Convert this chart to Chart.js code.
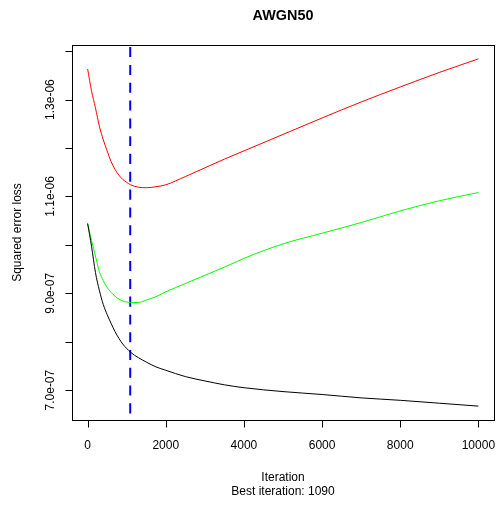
<!DOCTYPE html>
<html>
<head>
<meta charset="utf-8">
<script src="https://cdn.jsdelivr.net/npm/chart.js@4/dist/chart.umd.min.js"></script>
<style>
  html, body { margin: 0; padding: 0; background: #fff; }
  #wrap { width: 497px; height: 507px; position: relative; }
</style>
</head>
<body>
<div id="wrap"><canvas id="c"></canvas></div>
<script>
// Boosting iterations at which the loss curves were sampled
const iterations = [0, 100, 200, 300, 400, 500, 600, 700, 800, 900, 1000, 1100, 1300, 1500,
  1750, 2000, 2500, 3000, 3500, 4000, 5000, 6000, 7000, 8000, 9000, 10000];

// Validation loss (red)
const validLoss = [13.63e-7, 13.18e-7, 12.83e-7, 12.45e-7, 12.17e-7, 11.94e-7, 11.72e-7, 11.56e-7,
  11.44e-7, 11.35e-7, 11.29e-7, 11.24e-7, 11.19e-7, 11.18e-7, 11.20e-7, 11.24e-7, 11.41e-7,
  11.59e-7, 11.77e-7, 11.94e-7, 12.28e-7, 12.62e-7, 12.95e-7, 13.26e-7, 13.56e-7, 13.84e-7];

// Cross-validation loss (green)
const cvLoss = [10.44e-7, 10.09e-7, 9.77e-7, 9.45e-7, 9.26e-7, 9.12e-7, 9.02e-7, 8.94e-7,
  8.88e-7, 8.84e-7, 8.82e-7, 8.81e-7, 8.81e-7, 8.86e-7, 8.93e-7, 9.03e-7, 9.20e-7,
  9.37e-7, 9.54e-7, 9.72e-7, 10.02e-7, 10.24e-7, 10.46e-7, 10.70e-7, 10.91e-7, 11.08e-7];

// Training loss (black)
const trainLoss = [10.44e-7, 9.97e-7, 9.43e-7, 9.06e-7, 8.77e-7, 8.56e-7, 8.38e-7, 8.21e-7,
  8.07e-7, 7.95e-7, 7.86e-7, 7.78e-7, 7.67e-7, 7.58e-7, 7.48e-7, 7.41e-7, 7.28e-7,
  7.19e-7, 7.11e-7, 7.05e-7, 6.97e-7, 6.91e-7, 6.84e-7, 6.79e-7, 6.73e-7, 6.67e-7];

const bestIteration = 1090;

// Axis ticks and their labels
const xTicks = [0, 2000, 4000, 6000, 8000, 10000];
const xTickLabels = ['0', '2000', '4000', '6000', '8000', '10000'];
const yTicks = [7e-7, 8e-7, 9e-7, 10e-7, 11e-7, 12e-7, 13e-7, 14e-7];
const yTickLabels = ['7.0e-07', '', '9.0e-07', '', '1.1e-06', '', '1.3e-06', ''];

const titleText = 'AWGN50';
const xTitle = 'Iteration';
const xSubTitle = 'Best iteration: ' + bestIteration;
const yTitle = 'Squared error loss';

// Axis limits padded by 4% of the data range on each side
const allY = validLoss.concat(cvLoss, trainLoss);
const yLo = Math.min(...allY), yHi = Math.max(...allY);
const yPad = (yHi - yLo) * 0.04;
const yMin = yLo - yPad, yMax = yHi + yPad;
const xLo = iterations[0], xHi = iterations[iterations.length - 1];
const xPad = (xHi - xLo) * 0.04;
const xMin = xLo - xPad, xMax = xHi + xPad;

const toPoints = (vals) => iterations.map((it, i) => ({ x: it, y: vals[i] }));

const FONT = '"Liberation Sans", Arial, sans-serif';
const TICK_LEN = 7;

// Frame, tick marks, tick labels and titles
const framePlugin = {
  id: 'frame',
  afterDraw(chart) {
    const { ctx, chartArea: a, scales } = chart;
    const xs = scales.x, ys = scales.y;
    ctx.save();
    ctx.strokeStyle = '#000';
    ctx.lineWidth = 1;
    ctx.strokeRect(a.left + 0.5, a.top + 0.5, a.right - a.left, a.bottom - a.top);

    ctx.fillStyle = '#000';
    ctx.font = '12px ' + FONT;

    // x axis tick marks, outward from the frame
    ctx.beginPath();
    xTicks.forEach((t) => {
      const px = Math.round(xs.getPixelForValue(t)) + 0.5;
      ctx.moveTo(px, a.bottom + 0.5); ctx.lineTo(px, a.bottom + 0.5 + TICK_LEN);
    });
    // y axis tick marks
    yTicks.forEach((t) => {
      const py = Math.round(ys.getPixelForValue(t)) + 0.5;
      ctx.moveTo(a.left + 0.5, py); ctx.lineTo(a.left + 0.5 - TICK_LEN, py);
    });
    ctx.stroke();

    ctx.textAlign = 'center';
    ctx.textBaseline = 'alphabetic';
    xTicks.forEach((t, i) => {
      ctx.fillText(xTickLabels[i], xs.getPixelForValue(t), a.bottom + 29);
    });
    yTicks.forEach((t, i) => {
      if (!yTickLabels[i]) return;
      ctx.save();
      ctx.translate(a.left - 18, ys.getPixelForValue(t));
      ctx.rotate(-Math.PI / 2);
      ctx.fillText(yTickLabels[i], 0, 0);
      ctx.restore();
    });

    // titles
    const cx = (a.left + a.right) / 2;
    ctx.fillText(xTitle, cx, a.bottom + 61);
    ctx.fillText(xSubTitle, cx, a.bottom + 75);

    ctx.save();
    ctx.translate(21, (a.top + a.bottom) / 2);
    ctx.rotate(-Math.PI / 2);
    ctx.fillText(yTitle, 0, 0);
    ctx.restore();

    ctx.font = 'bold 14.4px ' + FONT;
    ctx.fillText(titleText, cx, 20);
    ctx.restore();
  }
};

new Chart(document.getElementById('c'), {
  type: 'line',
  data: {
    datasets: [
      { label: 'train', data: toPoints(trainLoss), borderColor: '#000000', borderWidth: 1 },
      { label: 'valid', data: toPoints(validLoss), borderColor: '#FF0000', borderWidth: 1 },
      { label: 'cv', data: toPoints(cvLoss), borderColor: '#00FF00', borderWidth: 1 },
      {
        label: 'best',
        data: [{ x: bestIteration, y: yMax }, { x: bestIteration, y: yMin }],
        borderColor: '#0000FF', borderWidth: 2,
        borderDash: [10, 7.8], borderDashOffset: 15.5, borderCapStyle: 'butt'
      }
    ]
  },
  options: {
    responsive: true,
    maintainAspectRatio: false,
    animation: false,
    layout: { padding: { left: 72, right: 3, top: 45, bottom: 87 } },
    elements: {
      point: { radius: 0, hoverRadius: 0 },
      line: { cubicInterpolationMode: 'monotone', fill: false }
    },
    plugins: { legend: { display: false }, tooltip: { enabled: false }, title: { display: false } },
    scales: {
      x: { type: 'linear', min: xMin, max: xMax, display: false },
      y: { type: 'linear', min: yMin, max: yMax, display: false }
    }
  },
  plugins: [framePlugin]
});
</script>
</body>
</html>
